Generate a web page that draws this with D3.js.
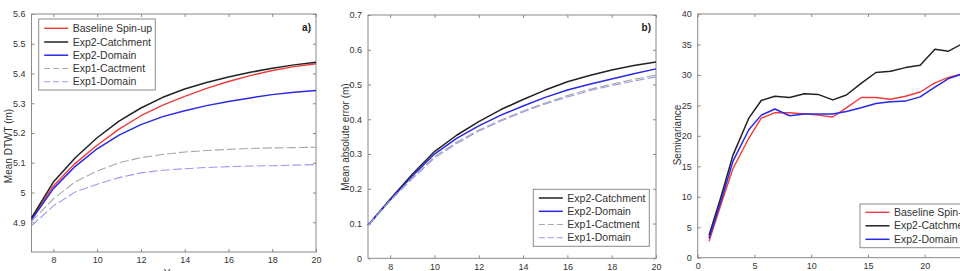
<!DOCTYPE html>
<html><head><meta charset="utf-8">
<script src="https://cdn.jsdelivr.net/npm/d3@7"></script>
<style>
body{margin:0;background:#fff;}
svg{display:block;font-family:"Liberation Sans",Arial,sans-serif;}
</style></head>
<body>
<svg id="chart" width="960" height="271"></svg>
<script>
// ---------- DATA ----------
const years = [7,8,9,10,11,12,13,14,15,16,17,18,19,20];

// panel a) Mean DTWT (m)
const aBaseline   = [4.912,5.022,5.098,5.159,5.213,5.258,5.294,5.323,5.350,5.373,5.393,5.410,5.423,5.433];
const aExp2Catch  = [4.915,5.035,5.117,5.184,5.240,5.284,5.320,5.348,5.370,5.388,5.404,5.418,5.429,5.438];
const aExp2Domain = [4.908,5.013,5.088,5.147,5.193,5.228,5.255,5.275,5.292,5.306,5.318,5.329,5.337,5.343];
const aExp1Catch  = [4.902,4.979,5.036,5.072,5.100,5.117,5.128,5.136,5.141,5.145,5.148,5.150,5.151,5.152];
const aExp1Domain = [4.888,4.955,5.002,5.028,5.050,5.066,5.075,5.080,5.084,5.087,5.089,5.090,5.092,5.094];

// panel b) Mean absolute error (m)
const bExp2Catch  = [0.095,0.170,0.242,0.307,0.354,0.393,0.428,0.457,0.484,0.508,0.526,0.542,0.555,0.565];
const bExp2Domain = [0.095,0.168,0.237,0.300,0.345,0.381,0.412,0.438,0.463,0.484,0.501,0.516,0.531,0.545];
const bExp1Catch  = [0.095,0.166,0.232,0.292,0.334,0.369,0.398,0.424,0.447,0.468,0.486,0.501,0.515,0.527];
const bExp1Domain = [0.095,0.165,0.229,0.288,0.330,0.366,0.395,0.421,0.444,0.464,0.482,0.497,0.510,0.522];

// panel c) Semivariance
const lags        = [1,2.1,3.1,4.5,5.6,6.8,8.1,9.4,10.6,11.9,13.1,14.4,15.7,17.0,18.3,19.6,20.9,22.1,23.2];
const cBaseline   = [2.7,9.0,14.6,19.6,22.9,23.8,23.8,23.6,23.4,23.1,24.6,26.3,26.3,26.0,26.5,27.2,28.7,29.6,30.1];
const cExp2Catch  = [3.7,10.3,16.8,22.9,25.8,26.5,26.3,26.9,26.8,25.9,26.7,28.6,30.4,30.6,31.2,31.6,34.2,33.9,35.0];
const cExp2Domain = [3.2,9.6,15.8,21.0,23.4,24.4,23.3,23.6,23.6,23.6,24.0,24.6,25.3,25.6,25.7,26.4,28.0,29.4,30.1];

const aYTicks = [4.9,5.0,5.1,5.2,5.3,5.4,5.5,5.6];
const bYTicks = [0,0.1,0.2,0.3,0.4,0.5,0.6,0.7];
const cYTicks = [0,5,10,15,20,25,30,35,40];
const abXTicks = [8,10,12,14,16,18,20];
const cXTicks = [0,5,10,15,20,25,30];

// ---------- STYLES ----------
const sty = {
  baseline:{color:"#f23a3a",w:1.4,dash:null},
  exp2c:{color:"#222222",w:1.5,dash:null},
  exp2d:{color:"#2828e6",w:1.5,dash:null},
  exp1c:{color:"#a8a8a8",w:1.1,dash:"9,3"},
  exp1d:{color:"#9a9aee",w:1.1,dash:"9,3"}
};

const svg = d3.select("#chart");
const fmt = d => String(+d.toFixed(2));

function panel(o){
  const x = d3.scaleLinear().domain(o.xd).range([o.l,o.r]);
  const y = d3.scaleLinear().domain(o.yd).range([o.b,o.t]);
  const g = svg.append("g");
  const tl = 3;
  const axc = "#8a8a8a";
  // frame
  g.append("rect").attr("x",o.l).attr("y",o.t).attr("width",o.r-o.l).attr("height",o.b-o.t)
    .attr("fill","none").attr("stroke",axc).attr("stroke-width",1);
  // axes via d3 axis (inward ticks)
  const xb = d3.axisBottom(x).tickValues(o.xt).tickSize(-tl).tickPadding(6).tickFormat(fmt);
  const xt = d3.axisTop(x).tickValues(o.xt).tickSize(-tl).tickFormat("");
  const yl = d3.axisLeft(y).tickValues(o.yt).tickSize(-tl).tickPadding(6).tickFormat(fmt);
  const yr = d3.axisRight(y).tickValues(o.yt).tickSize(-tl).tickFormat("");
  const st = s => { s.select(".domain").remove(); s.selectAll(".tick line").attr("stroke",axc);
    s.selectAll("text").attr("fill","#333").attr("font-size",9).attr("font-family","Liberation Sans, Arial, sans-serif"); };
  g.append("g").attr("transform",`translate(0,${o.b})`).call(xb).call(st).selectAll("text").attr("dy",o.xdy);
  g.append("g").attr("transform",`translate(0,${o.t})`).call(xt).call(st);
  g.append("g").attr("transform",`translate(${o.l},0)`).call(yl).call(st);
  g.append("g").attr("transform",`translate(${o.r},0)`).call(yr).call(st);
  // lines
  const line = d3.line().x(d=>x(d[0])).y(d=>y(d[1]));
  o.series.forEach(s=>{
    const st2 = sty[s.key];
    g.append("path").datum(o.xs.map((v,i)=>[v,s.vals[i]]))
      .attr("d",line).attr("fill","none").attr("stroke",st2.color)
      .attr("stroke-width",st2.w).attr("stroke-dasharray",st2.dash)
      .attr("stroke-linejoin","round");
  });
  // y label
  g.append("text").attr("transform",`translate(${o.ylx},${o.yly}) rotate(-90)`)
    .attr("text-anchor","middle").attr("dy","0.35em").attr("font-size",10).attr("fill","#333").text(o.ylab);
  if(o.xlab) g.append("text").attr("x",(o.l+o.r)/2).attr("y",o.xly).attr("text-anchor","middle")
    .attr("font-size",10).attr("fill","#333").text(o.xlab);
  if(o.tag) g.append("text").attr("x",o.tag[0]).attr("y",o.tag[1]).attr("text-anchor","end")
    .attr("font-size",10).attr("font-weight","bold").attr("fill","#222").text(o.tagText);
  // legend
  const L = o.leg;
  g.append("rect").attr("x",L.x).attr("y",L.y).attr("width",L.w).attr("height",L.h)
    .attr("fill","#fff").attr("stroke",axc).attr("stroke-width",1);
  o.series.forEach((s,i)=>{
    const st2 = sty[s.key];
    const yy = L.rows[i];
    g.append("line").attr("x1",L.x+5.5).attr("x2",L.x+29.5).attr("y1",yy).attr("y2",yy)
      .attr("stroke",st2.color).attr("stroke-width",st2.w).attr("stroke-dasharray",st2.dash?"6,3":null);
    g.append("text").attr("x",L.x+34).attr("y",yy).attr("dy","0.35em").attr("font-size",10.5)
      .attr("fill","#333").text(s.name);
  });
}

panel({l:31.5,r:316,t:14,b:252,xd:[7,20],yd:[4.8,5.6],xt:abXTicks,yt:aYTicks,xs:years,xdy:"0.55em",
  ylab:"Mean DTWT (m)",ylx:8.5,yly:146,xlab:"Year",xly:277,tag:[311,31],tagText:"a)",
  series:[
    {key:"baseline",name:"Baseline Spin-up",vals:aBaseline},
    {key:"exp2c",name:"Exp2-Catchment",vals:aExp2Catch},
    {key:"exp2d",name:"Exp2-Domain",vals:aExp2Domain},
    {key:"exp1c",name:"Exp1-Cactment",vals:aExp1Catch},
    {key:"exp1d",name:"Exp1-Domain",vals:aExp1Domain}],
  leg:{x:38.7,y:19,w:116.6,h:71,rows:[28.3,42,55.2,68.5,81.7]}});

panel({l:368,r:656,t:15,b:258.3,xd:[7,20],yd:[0,0.7],xt:abXTicks,yt:bYTicks,xs:years,xdy:"0.6em",
  ylab:"Mean absolute error (m)",ylx:345,yly:137,tag:[651,31],tagText:"b)",
  series:[
    {key:"exp2c",name:"Exp2-Catchment",vals:bExp2Catch},
    {key:"exp2d",name:"Exp2-Domain",vals:bExp2Domain},
    {key:"exp1c",name:"Exp1-Cactment",vals:bExp1Catch},
    {key:"exp1d",name:"Exp1-Domain",vals:bExp1Domain}],
  leg:{x:533.3,y:189.3,w:116,h:57,rows:[198,211.3,224.5,237.8]}});

panel({l:697.7,r:697.7+30*11.35,t:14,b:257.7,xd:[0,30],yd:[0,40],xt:cXTicks,yt:cYTicks,xs:lags,xdy:"0.6em",
  ylab:"Semivariance",ylx:677,yly:135,
  series:[
    {key:"baseline",name:"Baseline Spin-up",vals:cBaseline},
    {key:"exp2c",name:"Exp2-Catchment",vals:cExp2Catch},
    {key:"exp2d",name:"Exp2-Domain",vals:cExp2Domain}],
  leg:{x:860,y:204,w:116,h:43.7,rows:[212.3,225.8,239.3]}});
</script>
</body></html>
